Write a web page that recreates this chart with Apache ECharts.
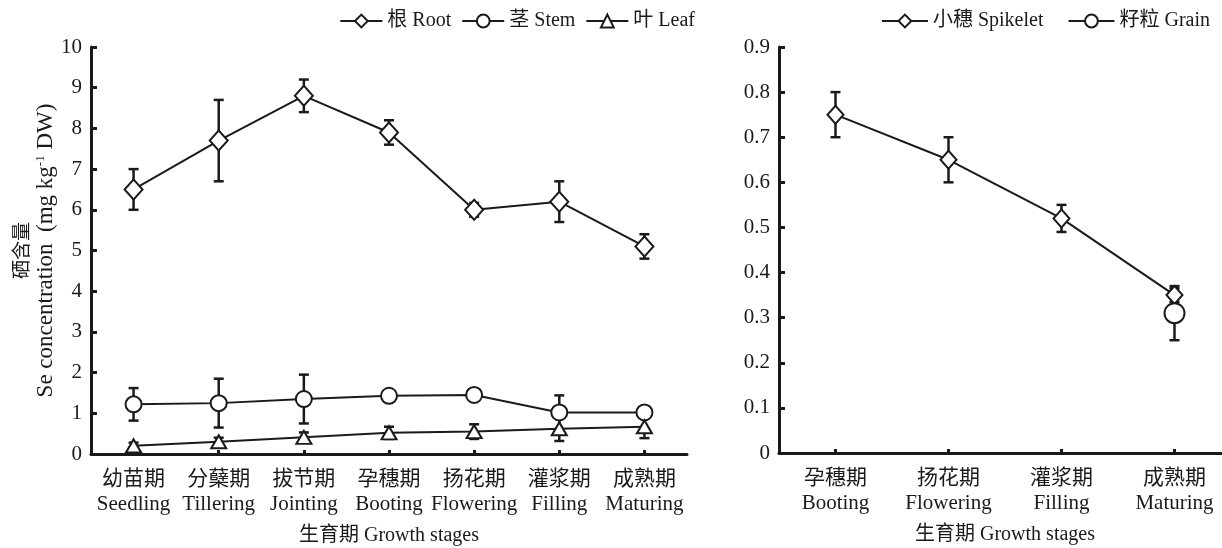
<!DOCTYPE html>
<html>
<head>
<meta charset="UTF-8">
<title>Se concentration</title>
<script src="https://cdn.jsdelivr.net/npm/echarts@6/dist/echarts.min.js"></script>
<style>
  html, body { margin: 0; padding: 0; background: #fff; }
</style>
</head>
<body>
<div id="main" style="width: 1222px; height: 548px;"></div>
<script>
// 左图：各器官
const stagesA = ['幼苗期\nSeedling', '分蘖期\nTillering', '拔节期\nJointing', '孕穗期\nBooting', '扬花期\nFlowering', '灌浆期\nFilling', '成熟期\nMaturing'];
const rootVal = [6.5, 7.7, 8.8, 7.9, 6.0, 6.2, 5.1];
const rootErr = [0.5, 1.0, 0.4, 0.3, 0.17, 0.5, 0.3];
const stemVal = [1.22, 1.25, 1.35, 1.43, 1.45, 1.02, 1.02];
const stemErr = [0.4, 0.6, 0.6, 0.13, 0.05, 0.42, 0.13];
const leafVal = [0.2, 0.3, 0.41, 0.52, 0.55, 0.62, 0.67];
const leafErr = [0.08, 0.1, 0.12, 0.15, 0.18, 0.3, 0.28];

// 右图：小穗、籽粒
const stagesB = ['孕穗期\nBooting', '扬花期\nFlowering', '灌浆期\nFilling', '成熟期\nMaturing'];
const spikeVal = [0.75, 0.65, 0.52, 0.35];
const spikeErr = [0.05, 0.05, 0.03, 0.015];
const grainVal = [null, null, null, 0.31];
const grainErr = [null, null, null, 0.06];

const FONT = "'Liberation Serif', 'Noto Sans CJK SC', serif";
const INK = '#1a1a1a';

function errData(vals, errs) {
  const out = [];
  vals.forEach(function (v, i) {
    if (v == null || errs[i] == null) return;
    out.push([i, v - errs[i], v + errs[i]]);
  });
  return out;
}

function errorBars(cap) {
  return function (params, api) {
    const lo = api.coord([api.value(0), api.value(1)]);
    const hi = api.coord([api.value(0), api.value(2)]);
    const st = { stroke: INK, lineWidth: 2.5 };
    return {
      type: 'group',
      children: [
        { type: 'line', shape: { x1: lo[0], y1: lo[1], x2: hi[0], y2: hi[1] }, style: st },
        { type: 'line', shape: { x1: lo[0] - cap, y1: lo[1], x2: lo[0] + cap, y2: lo[1] }, style: st },
        { type: 'line', shape: { x1: hi[0] - cap, y1: hi[1], x2: hi[0] + cap, y2: hi[1] }, style: st }
      ]
    };
  };
}

function xAxisOpt(idx, cats) {
  return {
    type: 'category', gridIndex: idx, data: cats,
    name: '生育期 Growth stages', nameLocation: 'middle', nameGap: 72,
    nameTextStyle: { fontFamily: FONT, fontSize: 20, color: INK },
    axisLine: { lineStyle: { color: INK, width: 3 } },
    axisTick: { show: true, inside: true, alignWithLabel: true, length: 4, lineStyle: { color: INK, width: 3 } },
    axisLabel: { fontFamily: FONT, fontSize: 21, color: INK, lineHeight: 25, margin: 13, interval: 0 },
    splitLine: { show: false }
  };
}

function yAxisOpt(idx, max, interval, extra) {
  return Object.assign({
    type: 'value', gridIndex: idx, min: 0, max: max, interval: interval,
    axisLine: { show: true, lineStyle: { color: INK, width: 3 } },
    axisTick: { show: true, inside: true, length: 6, lineStyle: { color: INK, width: 3 } },
    axisLabel: { fontFamily: FONT, fontSize: 21, color: INK, margin: 9 },
    splitLine: { show: false }
  }, extra || {});
}

function lineSeries(name, data, symbol, size, xi) {
  return {
    name: name, type: 'line', xAxisIndex: xi, yAxisIndex: xi, data: data,
    symbol: symbol, symbolSize: size, z: 5,
    lineStyle: { color: INK, width: 2 },
    itemStyle: { color: '#fff', borderColor: INK, borderWidth: 2 },
    connectNulls: false
  };
}

function errSeries(vals, errs, xi, cap) {
  return {
    type: 'custom', xAxisIndex: xi, yAxisIndex: xi, z: 3,
    renderItem: errorBars(cap),
    encode: { x: 0, y: [1, 2] },
    data: errData(vals, errs),
    silent: true
  };
}

const legendText = { fontFamily: FONT, fontSize: 20, color: INK };

const chart = echarts.init(document.getElementById('main'));
chart.setOption({
  backgroundColor: '#fff',
  animation: false,
  legend: [
    {
      data: ['根 Root', '茎 Stem', '叶 Leaf'], right: 522, top: 6,
      itemWidth: 42, itemHeight: 16, itemGap: 10, textStyle: legendText
    },
    {
      data: ['小穗 Spikelet', '籽粒 Grain'], right: 7, top: 6,
      itemWidth: 46, itemHeight: 16, itemGap: 24, textStyle: legendText
    }
  ],
  grid: [
    { left: 91, top: 47, width: 596, bottom: 94, containLabel: false, outerBoundsMode: 'none' },
    { left: 779, top: 47, width: 452, bottom: 95, containLabel: false, outerBoundsMode: 'none' }
  ],
  xAxis: [xAxisOpt(0, stagesA), xAxisOpt(1, stagesB)],
  yAxis: [
    yAxisOpt(0, 10, 1, {
      name: '{cn|硒含量}\n{en|Se concentration  (mg kg}{sup|-1}{en| DW)}',
      nameLocation: 'middle', nameGap: 33, nameRotate: 90,
      nameTextStyle: {
        color: INK, lineHeight: 23,
        rich: {
          cn: { fontFamily: FONT, fontSize: 19, color: INK, lineHeight: 23 },
          en: { fontFamily: FONT, fontSize: 23, color: INK, lineHeight: 23 },
          sup: { fontFamily: FONT, fontSize: 13, color: INK, verticalAlign: 'top', lineHeight: 23, padding: [0, 0, 9, 0] }
        }
      }
    }),
    yAxisOpt(1, 0.9, 0.1)
  ],
  series: [
    errSeries(rootVal, rootErr, 0, 5),
    errSeries(stemVal, stemErr, 0, 5),
    errSeries(leafVal, leafErr, 0, 5),
    lineSeries('根 Root', rootVal, 'diamond', [18, 20], 0),
    lineSeries('茎 Stem', stemVal, 'circle', 16, 0),
    lineSeries('叶 Leaf', leafVal, 'triangle', [15, 13], 0),
    errSeries(spikeVal, spikeErr, 1, 5),
    errSeries(grainVal, grainErr, 1, 5),
    lineSeries('小穗 Spikelet', spikeVal, 'diamond', [16, 18], 1),
    lineSeries('籽粒 Grain', grainVal, 'circle', 20, 1)
  ]
});
</script>
</body>
</html>
